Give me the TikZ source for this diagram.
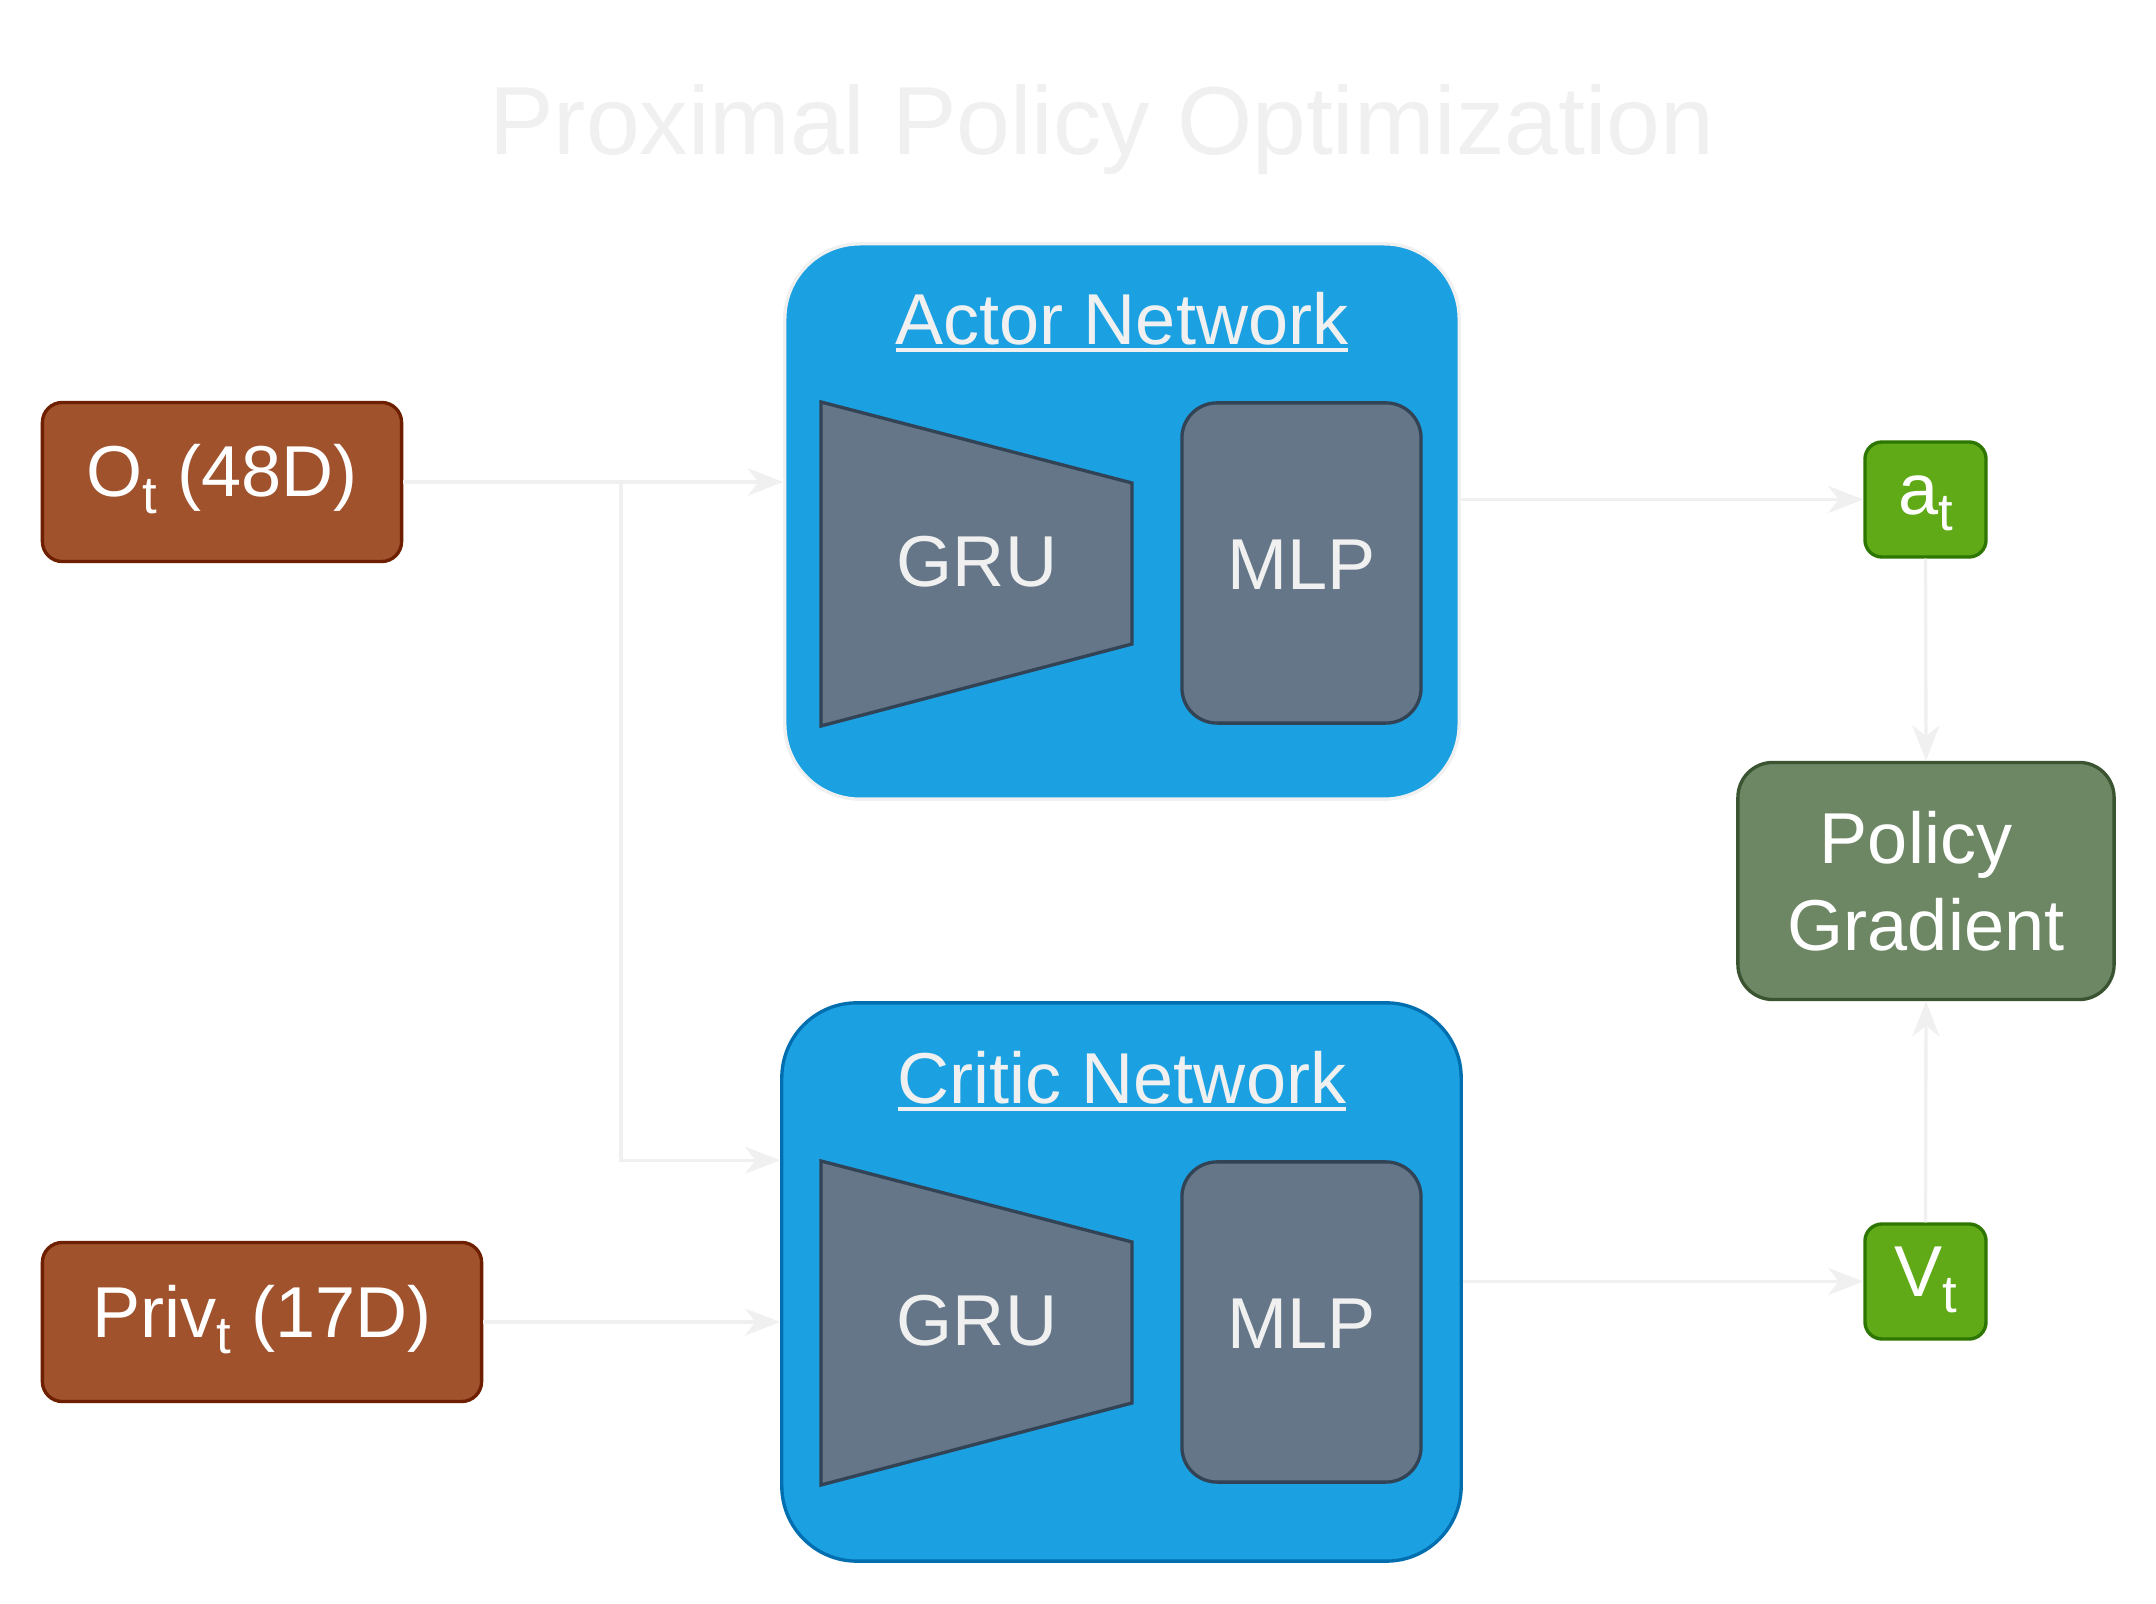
\documentclass[tikz,border=0pt]{standalone}
\usepackage{fontspec}
\setmainfont{Liberation Sans}
\usetikzlibrary{arrows.meta}

\definecolor{netblue}{HTML}{1BA1E2}
\definecolor{criticedge}{HTML}{006EAF}
\definecolor{lightline}{HTML}{F0F0F0}
\definecolor{layerfill}{HTML}{647687}
\definecolor{layeredge}{HTML}{314354}
\definecolor{inputfill}{HTML}{A0522D}
\definecolor{inputedge}{HTML}{6D1F00}
\definecolor{outfill}{HTML}{60A917}
\definecolor{outedge}{HTML}{2D7600}
\definecolor{gradfill}{HTML}{6D8764}
\definecolor{gradedge}{HTML}{3A5431}

\newcommand{\lowsub}[1]{\raisebox{-0.16cm}{\fontsize{15}{15}\selectfont #1}}
\newcommand{\netname}[1]{{\setbox0=\hbox{#1}\leavevmode\rlap{\rule[-0.067cm]{\wd0}{0.034cm}}\box0}}

\begin{document}
\begin{tikzpicture}[x=0.01cm,y=-0.01cm,
   every node/.style={font=\fontsize{20.5}{24.6}\selectfont,text=white},
   netbox/.style={fill=netblue,line width=0.95pt,rounded corners=0.75cm},
   layer/.style={draw=layeredge,fill=layerfill,line width=0.95pt,text=lightline},
   mlpbox/.style={layer,rounded corners=0.35cm,minimum width=2.39cm,minimum height=3.2cm,
      text height=0.52cm,text depth=0cm},
   inbox/.style={draw=inputedge,fill=inputfill,line width=0.95pt,rounded corners=0.2cm,
      minimum height=1.59cm,text height=0.52cm,text depth=0.22cm},
   outbox/.style={draw=outedge,fill=outfill,line width=0.95pt,rounded corners=0.17cm,
      minimum width=1.21cm,minimum height=1.15cm,text height=0.52cm,text depth=0.22cm},
   flow/.style={draw=lightline,line width=0.95pt,-{Stealth[length=10pt,width=7.7pt,inset=3pt]}}]
\fill[white] (0,0) rectangle (2156,1604);
\useasboundingbox (0,0) rectangle (2156,1604);

\node[anchor=base,text=lightline,font=\fontsize{27.5}{33}\selectfont] (title) at (1102,155) {Proximal Policy Optimization};

\node[netbox,draw=lightline,minimum width=6.74cm,minimum height=5.55cm] (actor) at (1122,521.5) {};
\node[anchor=base,text=lightline] (actorname) at (1122,345) {\netname{Actor Network}};
\draw[layer] (821,402) -- (1132,483) -- (1132,644) -- (821,726) -- cycle;
\node[text=lightline,text height=0.52cm,text depth=0cm] (agru) at (977,560) {GRU};
\node[mlpbox] (amlp) at (1301.5,563) {MLP};

\node[netbox,draw=criticedge,minimum width=6.79cm,minimum height=5.58cm] (critic) at (1121.5,1282) {};
\node[anchor=base,text=lightline] (criticname) at (1122,1104) {\netname{Critic Network}};
\draw[layer] (821,1161) -- (1132,1242) -- (1132,1403) -- (821,1485) -- cycle;
\node[text=lightline,text height=0.52cm,text depth=0cm] (cgru) at (977,1319) {GRU};
\node[mlpbox] (cmlp) at (1301.5,1322) {MLP};

\node[inbox,minimum width=3.59cm] (obs) at (222,482) {O\lowsub{t} (48D)};
\node[inbox,minimum width=4.39cm] (priv) at (262,1322) {Priv\lowsub{t} (17D)};

\node[outbox] (at) at (1925.5,499.5) {a\lowsub{t}};
\node[outbox] (vt) at (1925.5,1281.5) {V\lowsub{t}};
\node[draw=gradedge,fill=gradfill,line width=0.95pt,rounded corners=0.35cm,
   minimum width=3.76cm,minimum height=2.37cm,align=center] (pg) at (1926,881) {Policy\kern0.2cm\\Gradient};

\coordinate (split) at (621,482);
\draw[flow] (obs.east) -- (obs.east -| actor.west);
\draw[flow] (obs.east) -- (split) |- (critic.west |- cmlp.north);
\draw[flow] (priv.east) -- (priv.east -| critic.west);
\draw[flow] (actor.east |- at) -- (at.west);
\draw[flow] (critic.east |- vt) -- (vt.west);
\draw[flow] (at.south) -- (pg.north);
\draw[flow] (vt.north) -- (pg.south);
\end{tikzpicture}
\end{document}
